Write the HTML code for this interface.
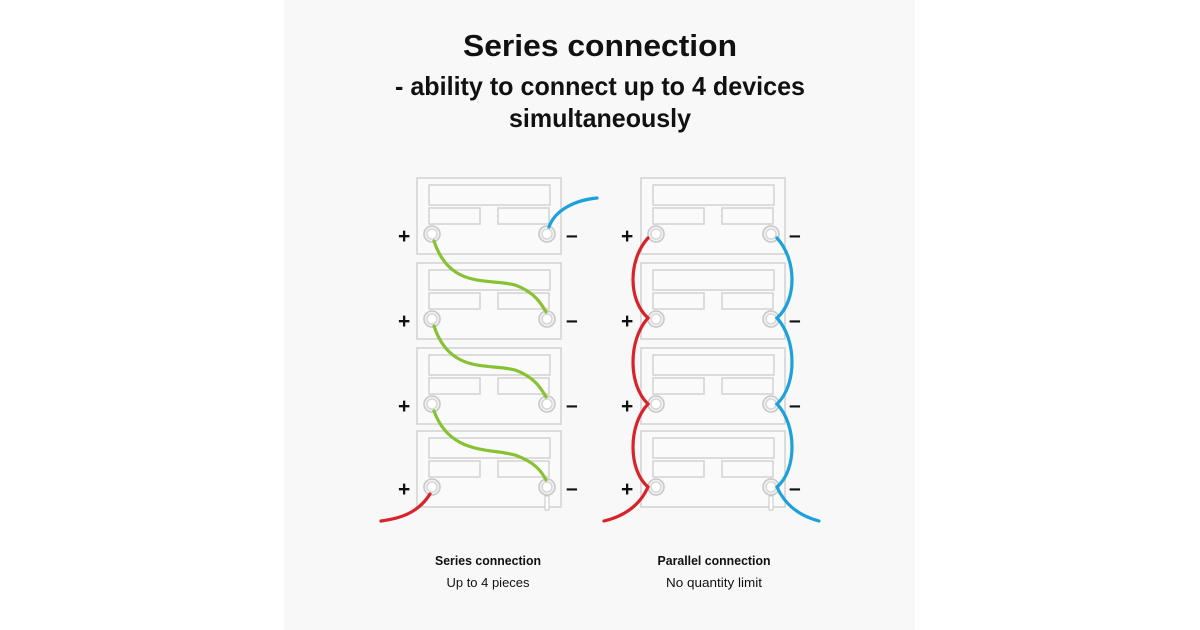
<!DOCTYPE html>
<html><head><style>
html,body{margin:0;padding:0;background:#fff;}
svg{display:block;}
text{font-family:"Liberation Sans",sans-serif;fill:#111;}
</style></head><body>
<svg width="1200" height="630" viewBox="0 0 1200 630" xmlns="http://www.w3.org/2000/svg">
<defs>
<g id="bat" fill="none" stroke="#d4d4d4" stroke-width="1.6">
<rect x="0" y="0" width="144" height="76" fill="#fafafa"/>
<rect x="12" y="7" width="121" height="20"/>
<rect x="12" y="30" width="51" height="16"/>
<rect x="81" y="30" width="51" height="16"/>
<circle cx="15" cy="56" r="8" fill="#f3f3f3" stroke="#c8c8c8"/>
<circle cx="15" cy="56" r="5" fill="#fff" stroke="#d8d8d8"/>
<circle cx="130" cy="56" r="8" fill="#f3f3f3" stroke="#c8c8c8"/>
<circle cx="130" cy="56" r="5" fill="#fff" stroke="#d8d8d8"/>
</g>
</defs>
<rect x="0" y="0" width="1200" height="630" fill="#fff"/>
<rect x="284" y="0" width="631" height="630" fill="#f8f8f8"/>
<text x="600" y="56" text-anchor="middle" font-size="31" font-weight="bold" textLength="274" lengthAdjust="spacingAndGlyphs">Series connection</text>
<text x="600" y="95" text-anchor="middle" font-size="26" font-weight="bold" textLength="410" lengthAdjust="spacingAndGlyphs">- ability to connect up to 4 devices</text>
<text x="600" y="127" text-anchor="middle" font-size="26" font-weight="bold" textLength="182" lengthAdjust="spacingAndGlyphs">simultaneously</text>

<use href="#bat" x="417" y="178"/>
<use href="#bat" x="417" y="263"/>
<use href="#bat" x="417" y="348"/>
<use href="#bat" x="417" y="431"/>
<use href="#bat" x="641" y="178"/>
<use href="#bat" x="641" y="263"/>
<use href="#bat" x="641" y="348"/>
<use href="#bat" x="641" y="431"/>
<rect x="545" y="496" width="4" height="14" fill="#fff" stroke="#c8c8c8"/>
<rect x="769" y="496" width="4" height="14" fill="#fff" stroke="#c8c8c8"/>

<g fill="none" stroke-width="3.2" stroke-linecap="round">
<path d="M549 227 C555 210 575 200 597 198" stroke="#1da1dc"/>
<path d="M434 241 C450 290 490 278 515 285 C535 292 542 305 546 312" stroke="#86c232"/>
<path d="M434 326 C450 375 490 363 515 370 C535 377 542 390 546 397" stroke="#86c232"/>
<path d="M434 411 C450 455 490 448 515 455 C535 462 542 472 546 480" stroke="#86c232"/>
<path d="M430 494 C420 510 405 518 381 521" stroke="#d9232a"/>
<path d="M648 238 C628 260 628 300 648 318 C628 340 628 385 648 404 C628 425 628 470 648 487 C640 505 625 516 604 521" stroke="#d9232a"/>
<path d="M777 238 C797 260 797 300 777 318 C797 340 797 385 777 404 C797 425 797 470 777 487 C785 505 800 516 819 521" stroke="#1da1dc"/>
</g>

<g font-size="21" font-weight="bold">
<text x="398" y="243">+</text><text x="398" y="328">+</text><text x="398" y="413">+</text><text x="398" y="496">+</text>
<text x="566" y="242">–</text><text x="566" y="327">–</text><text x="566" y="412">–</text><text x="566" y="495">–</text>
<text x="621" y="243">+</text><text x="621" y="328">+</text><text x="621" y="413">+</text><text x="621" y="496">+</text>
<text x="789" y="242">–</text><text x="789" y="327">–</text><text x="789" y="412">–</text><text x="789" y="495">–</text>
</g>

<text x="488" y="565" text-anchor="middle" font-size="13" font-weight="bold" textLength="106" lengthAdjust="spacingAndGlyphs">Series connection</text>
<text x="488" y="587" text-anchor="middle" font-size="13" textLength="83" lengthAdjust="spacingAndGlyphs">Up to 4 pieces</text>
<text x="714" y="565" text-anchor="middle" font-size="13" font-weight="bold" textLength="113" lengthAdjust="spacingAndGlyphs">Parallel connection</text>
<text x="714" y="587" text-anchor="middle" font-size="13" textLength="96" lengthAdjust="spacingAndGlyphs">No quantity limit</text>
</svg>
</body></html>
